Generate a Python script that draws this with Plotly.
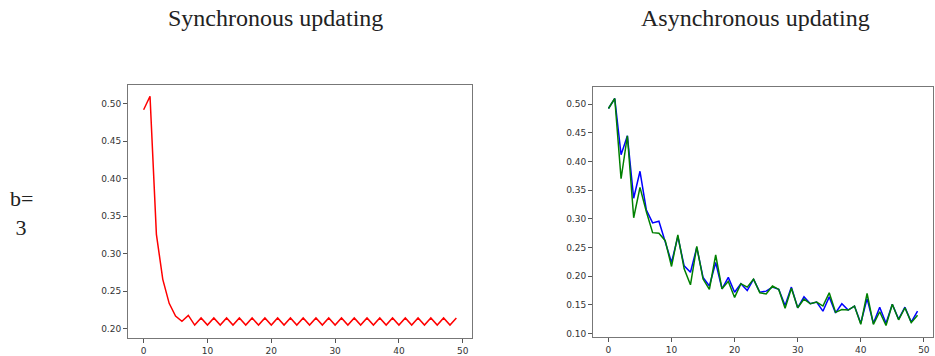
import plotly.graph_objects as go

steps = list(range(50))

sync_vals = [0.492, 0.510, 0.326, 0.266, 0.234, 0.217, 0.210, 0.218, 0.205, 0.2145,
             0.205, 0.2145, 0.205, 0.2145, 0.205, 0.2145, 0.205, 0.2145, 0.205, 0.2145,
             0.205, 0.2145, 0.205, 0.2145, 0.205, 0.2145, 0.205, 0.2145, 0.205, 0.2145,
             0.205, 0.2145, 0.205, 0.2145, 0.205, 0.2145, 0.205, 0.2145, 0.205, 0.2145,
             0.205, 0.2145, 0.205, 0.2145, 0.205, 0.2145, 0.205, 0.2145, 0.205, 0.2145]

async_blue = [0.4925, 0.510, 0.412, 0.445, 0.336, 0.383, 0.316, 0.293, 0.296, 0.259,
              0.224, 0.269, 0.218, 0.207, 0.250, 0.198, 0.183, 0.224, 0.178, 0.198,
              0.172, 0.187, 0.175, 0.195, 0.172, 0.174, 0.181, 0.177, 0.149, 0.181,
              0.145, 0.164, 0.152, 0.155, 0.139, 0.164, 0.136, 0.152, 0.141, 0.148,
              0.118, 0.161, 0.118, 0.146, 0.118, 0.151, 0.125, 0.146, 0.120, 0.139]

async_green = [0.4925, 0.510, 0.370, 0.445, 0.302, 0.355, 0.313, 0.276, 0.275, 0.262,
               0.217, 0.272, 0.213, 0.185, 0.252, 0.195, 0.177, 0.237, 0.178, 0.191,
               0.163, 0.187, 0.181, 0.195, 0.171, 0.169, 0.183, 0.177, 0.144, 0.179,
               0.145, 0.160, 0.152, 0.155, 0.148, 0.171, 0.137, 0.142, 0.141, 0.148,
               0.116, 0.170, 0.116, 0.138, 0.114, 0.151, 0.124, 0.145, 0.119, 0.132]

titles = ["Synchronous updating", "Asynchronous updating"]
row_label = "b=<br> 3"

W, H = 935, 356
fig = go.Figure()

fig.add_trace(go.Scatter(x=steps, y=sync_vals, mode="lines",
                         line=dict(color="#ff0000", width=1.5),
                         xaxis="x", yaxis="y", showlegend=False))
fig.add_trace(go.Scatter(x=steps, y=async_blue, mode="lines",
                         line=dict(color="#0000ff", width=1.5),
                         xaxis="x2", yaxis="y2", showlegend=False))
fig.add_trace(go.Scatter(x=steps, y=async_green, mode="lines",
                         line=dict(color="#008000", width=1.5),
                         xaxis="x2", yaxis="y2", showlegend=False))

tickfont = dict(family="DejaVu Sans", size=9, color="#333333")
common = dict(showline=True, mirror=True, linecolor="#777777", linewidth=1,
              ticks="outside", ticklen=4, tickcolor="#555555", tickwidth=1,
              showgrid=False, zeroline=False, tickfont=tickfont)

def px_x(a, b):
    return [a / W, b / W]

def px_y(top, bottom):
    return [(H - bottom) / H, (H - top) / H]

fig.update_layout(
    width=W, height=H,
    margin=dict(l=0, r=0, t=0, b=0),
    paper_bgcolor="white", plot_bgcolor="white",
    xaxis=dict(domain=px_x(128, 472), range=[-2.45, 51.45], tickvals=[0, 10, 20, 30, 40, 50],
               anchor="y", **common),
    yaxis=dict(domain=px_y(86, 342), range=[0.1876, 0.525],
               tickvals=[0.20, 0.25, 0.30, 0.35, 0.40, 0.45, 0.50], tickformat=".2f",
               anchor="x", **common),
    xaxis2=dict(domain=px_x(593, 933), range=[-2.45, 51.45], tickvals=[0, 10, 20, 30, 40, 50],
                anchor="y2", **common),
    yaxis2=dict(domain=px_y(88, 341), range=[0.0937, 0.530],
                tickvals=[0.10, 0.15, 0.20, 0.25, 0.30, 0.35, 0.40, 0.45, 0.50], tickformat=".2f",
                anchor="x2", **common),
)

serif = dict(family="Liberation Serif", size=24, color="#222222")
fig.add_annotation(text=titles[0], x=275 / W, y=(H - 18) / H, xref="paper", yref="paper",
                   showarrow=False, font=serif, xanchor="center", yanchor="middle")
fig.add_annotation(text=titles[1], x=755 / W, y=(H - 18) / H, xref="paper", yref="paper",
                   showarrow=False, font=serif, xanchor="center", yanchor="middle")
label_font = dict(family="Liberation Serif", size=22, color="#222222")
fig.add_annotation(text=row_label, x=8 / W, y=(H - 215) / H, xref="paper", yref="paper",
                   showarrow=False, font=label_font, xanchor="left", yanchor="middle", align="left")

fig.write_html("out.html", config={"displayModeBar": False},
               post_script="document.body.style.margin='0';document.body.style.overflow='hidden';")
